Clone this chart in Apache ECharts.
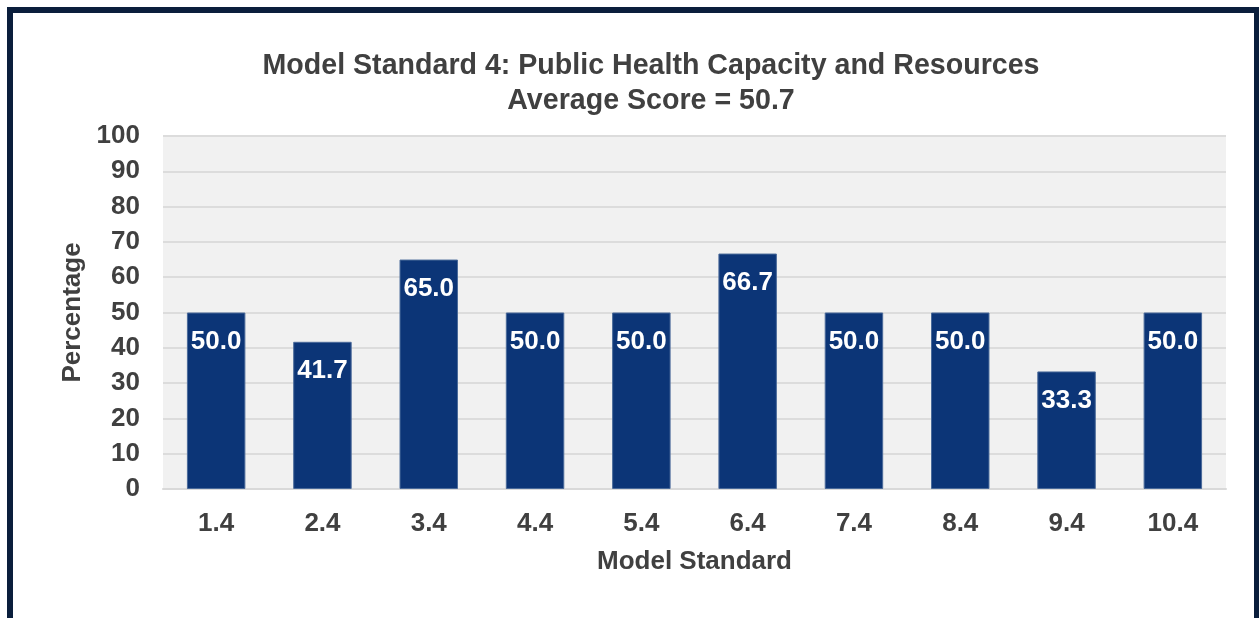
<!DOCTYPE html>
<html>
<head>
<meta charset="utf-8">
<script src="https://cdn.jsdelivr.net/npm/echarts@6/dist/echarts.min.js"></script>
<style>
html,body{margin:0;padding:0;background:#fff;}
#chart{width:1259px;height:618px;}
</style>
</head>
<body>
<div id="chart"></div>
<script>
const categories = ['1.4','2.4','3.4','4.4','5.4','6.4','7.4','8.4','9.4','10.4'];
const values = [50.0, 41.7, 65.0, 50.0, 50.0, 66.7, 50.0, 50.0, 33.3, 50.0];
const titleLines = ['Model Standard 4: Public Health Capacity and Resources', 'Average Score = 50.7'];
const xAxisName = 'Model Standard';
const yAxisName = 'Percentage';

const FONT = '"Liberation Sans", Arial, sans-serif';
const TXT = '#404040';
const chart = echarts.init(document.getElementById('chart'));
chart.setOption({
  animation: false,
  backgroundColor: '#ffffff',
  title: {
    text: titleLines.join('\n'),
    left: 646,
    top: 44,
    textAlign: 'center',
    textStyle: { fontFamily: FONT, fontWeight: 'bold', fontSize: 28.6, color: TXT, lineHeight: 35 }
  },
  graphic: [{
    type: 'rect',
    shape: { x: 10, y: 10, width: 1247, height: 700 },
    style: { fill: 'none', stroke: '#0a1e3c', lineWidth: 6 },
    silent: true
  }],
  grid: {
    left: 163, right: 33, top: 136, bottom: 129,
    show: true, backgroundColor: '#f1f1f1', borderWidth: 0
  },
  xAxis: {
    type: 'category',
    data: categories,
    name: xAxisName,
    nameLocation: 'middle',
    nameGap: 60,
    nameTextStyle: { fontFamily: FONT, fontWeight: 'bold', fontSize: 26, color: TXT },
    axisLine: { lineStyle: { color: '#d9d9d9', width: 2 } },
    axisTick: { show: false },
    axisLabel: { fontFamily: FONT, fontWeight: 'bold', fontSize: 26, color: TXT, margin: 22 }
  },
  yAxis: {
    type: 'value',
    min: 0, max: 100, interval: 10,
    name: yAxisName,
    nameLocation: 'middle',
    nameGap: 75,
    nameTextStyle: { fontFamily: FONT, fontWeight: 'bold', fontSize: 26, color: TXT },
    axisLine: { show: false },
    axisTick: { show: false },
    splitLine: { lineStyle: { color: '#dcdcdc', width: 2 } },
    axisLabel: { fontFamily: FONT, fontWeight: 'bold', fontSize: 26, color: TXT, margin: 23 }
  },
  series: [{
    type: 'bar',
    data: values,
    barWidth: '55%',
    itemStyle: { color: '#0c3577', borderColor: '#4a6a9a', borderWidth: 1 },
    label: {
      show: true,
      position: 'insideTop',
      distance: 16,
      formatter: p => p.value.toFixed(1),
      fontFamily: FONT, fontWeight: 'bold', fontSize: 26, color: '#ffffff'
    }
  }]
});
</script>
</body>
</html>
